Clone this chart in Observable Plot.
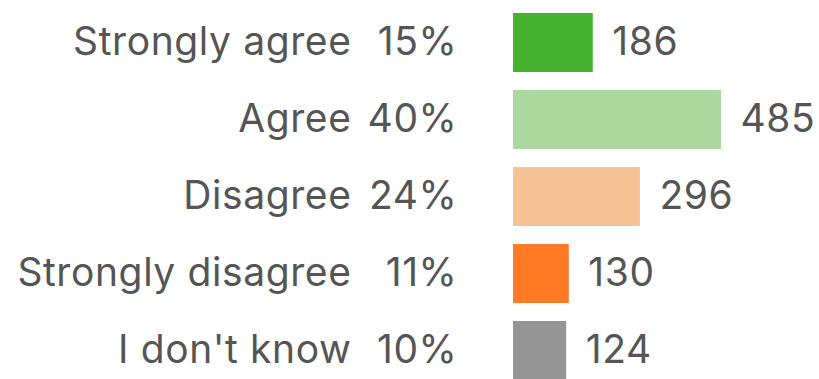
<!DOCTYPE html>
<html>
<head>
<meta charset="utf-8">
<script src="https://cdn.jsdelivr.net/npm/d3@7"></script>
<script src="https://cdn.jsdelivr.net/npm/@observablehq/plot@0.6"></script>
<style>
  html, body { margin: 0; padding: 0; background: #fff; }
  svg { display: block; }
  svg text { letter-spacing: 0.6px; }
</style>
</head>
<body>
<div id="chart"></div>
<script>
const categories = ["Strongly agree", "Agree", "Disagree", "Strongly disagree", "I don't know"];
const counts = [186, 485, 296, 130, 124];
const percentLabels = ["15%", "40%", "24%", "11%", "10%"];
const colors = ["#46b12d", "#abd89f", "#f8c297", "#fe7a24", "#959595"];

const data = categories.map((c, i) => ({category: c, count: counts[i], pct: percentLabels[i]}));

const font = "Inter, 'DejaVu Sans', sans-serif";
const chart = Plot.plot({
  width: 819,
  height: 379,
  marginLeft: 513,
  marginRight: 98,
  marginTop: 11,
  marginBottom: 0,
  style: {fontFamily: font, background: "#fff"},
  x: {domain: [0, 485], range: [513, 721], axis: null},
  y: {domain: categories, range: [11, 383], paddingInner: 0.23, paddingOuter: 0, axis: null},
  color: {domain: categories, range: colors},
  marks: [
    Plot.barX(data, {y: "category", x: "count", fill: "category"}),
    Plot.text(data, {y: "category", x: "count", text: d => String(d.count), textAnchor: "start", dx: 19, fontSize: 39, fill: "#555"}),
    Plot.text(data, {y: "category", frameAnchor: "left", text: "category", textAnchor: "end", dx: -162, fontSize: 39, fill: "#555"}),
    Plot.text(data, {y: "category", frameAnchor: "left", text: "pct", textAnchor: "end", dx: -56, fontSize: 39, fill: "#555"})
  ]
});
document.getElementById("chart").appendChild(chart);
</script>
</body>
</html>
